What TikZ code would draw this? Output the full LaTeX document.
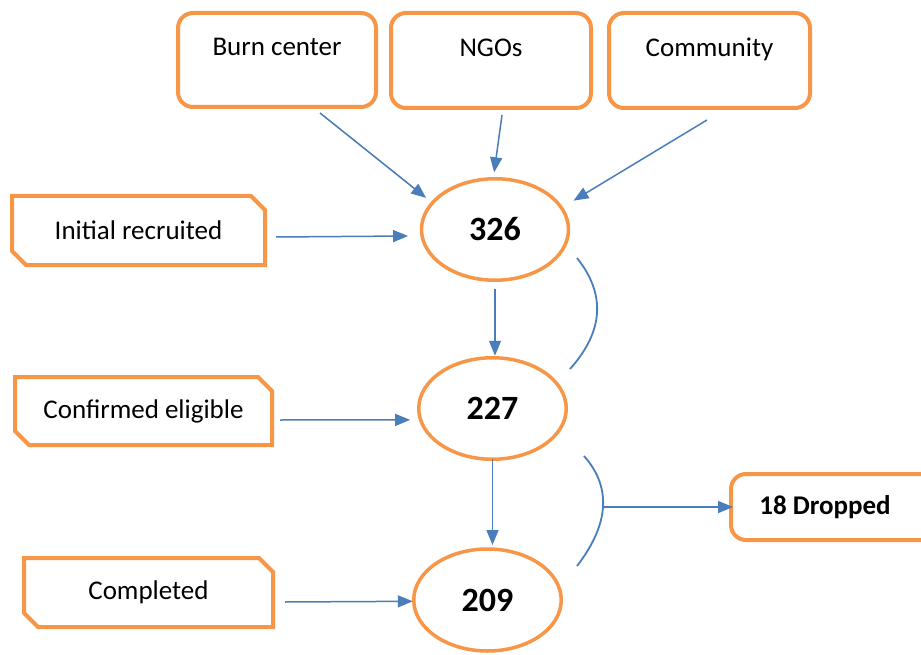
\documentclass[tikz,border=0pt]{standalone}
\usepackage{fontspec}
\setmainfont{Carlito}
\usetikzlibrary{arrows.meta,calc,shapes.geometric}
\definecolor{orng}{HTML}{F79646}
\definecolor{blu}{HTML}{4A7EBB}
\begin{document}
\begin{tikzpicture}[x=1pt,y=-1pt,
  lbl/.style={font=\fontsize{27}{32}\selectfont},
  rbox/.style={lbl,draw=orng,line width=4pt,rounded corners=15pt,inner sep=0pt,outer sep=0pt},
  topbox/.style={rbox,text height=12pt,text depth=20pt},
  sbox/.style={lbl,inner sep=0pt,outer sep=0pt},
  snip/.style={draw=orng,line width=4pt,line join=miter},
  ell/.style={ellipse,draw=orng,line width=3.5pt,inner sep=0pt,outer sep=0pt,font=\fontsize{34}{40}\selectfont\bfseries},
  arr/.style={draw=blu,line width=1.5pt,-{Triangle[length=15pt,width=12pt]}},
  brk/.style={draw=blu,line width=1.8pt}]
\useasboundingbox (0,0) rectangle (921,655);
\clip (0,0) rectangle (921,655);
\fill[white] (0,0) rectangle (921,655);

% top source boxes
\node[topbox,minimum width=198pt,minimum height=94pt] (burn) at (277,60) {Burn center};
\node[topbox,minimum width=200pt,minimum height=95pt] (ngo) at (491,60.5) {NGOs};
\node[topbox,minimum width=201pt,minimum height=95pt] (comm) at (709.5,60.5) {Community};

% left snipped boxes
\node[sbox,minimum width=253pt,minimum height=69pt] (init) at (138.5,230.5) {Initial recruited};
\node[sbox,minimum width=257pt,minimum height=68pt] (conf) at (143.5,411) {Confirmed eligible};
\node[sbox,minimum width=249pt,minimum height=69pt] (compl) at (148.5,592.5) {Completed};
\foreach \n in {init,conf,compl}{
  \draw[snip] (\n.north west) -- ([shift={(-14,0)}]\n.north east) -- ([shift={(0,14)}]\n.north east)
    -- (\n.south east) -- ([shift={(14,0)}]\n.south west) -- ([shift={(0,-14)}]\n.south west) -- cycle;
}

% ellipses
\node[ell,minimum width=147pt,minimum height=101.5pt] (c326) at (495,229.5) {326};
\node[ell,minimum width=147.5pt,minimum height=101.5pt] (c227) at (492.5,408.5) {227};
\node[ell,minimum width=147.5pt,minimum height=102pt] (c209) at (487.5,600) {209};

% dropped box (runs off the right edge)
\node[sbox,minimum width=184pt,minimum height=66pt,font=\fontsize{27}{32}\selectfont\bfseries] (drop) at (825,507) {18 Dropped};
\draw[orng,line width=4pt,rounded corners=15pt] ([shift={(40,0)}]drop.north east) -- ([shift={(-2,0)}]drop.north west)
  -- ([shift={(-2,0)}]drop.south west) -- ([shift={(40,0)}]drop.south east);

% arrows into 326
\draw[arr,shorten >=8pt] ([shift={(43,6)}]burn.south) -- (c326.157);
\draw[arr,shorten >=6.5pt] ([shift={(11,7)}]ngo.south) -- (c326.92);
\draw[arr,shorten >=14pt] ([shift={(-2.5,12)}]comm.south) -- (c326.18);

% horizontal arrows
\draw[arr,shorten >=14pt] ([shift={(11,6.5)}]init.east) -- (c326.185.9);
\draw[arr,shorten >=10.5pt] ([shift={(8,9)}]conf.east) -- (c227.189.1);
\draw[arr,shorten >=1pt] ([shift={(12,9.5)}]compl.east) -- (c209.181.6);

% vertical flow
\draw[arr,shorten >=2pt] ([shift={(0,9)}]c326.south) -- (c326.south |- c227.north);
\draw[arr,shorten >=4pt] (c227.south) -- (c227.south |- c209.north);

% brackets
\draw[brk] (577,258) .. controls (606,294.3) and (603.7,331.3) .. (570,369);
\draw[brk] (584,456) .. controls (611.7,487.3) and (609.3,524) .. (577,566);
\coordinate (dropsrc) at (603,507);
\draw[arr] (dropsrc) -- (drop.west -| drop.north west);
\end{tikzpicture}
\end{document}
